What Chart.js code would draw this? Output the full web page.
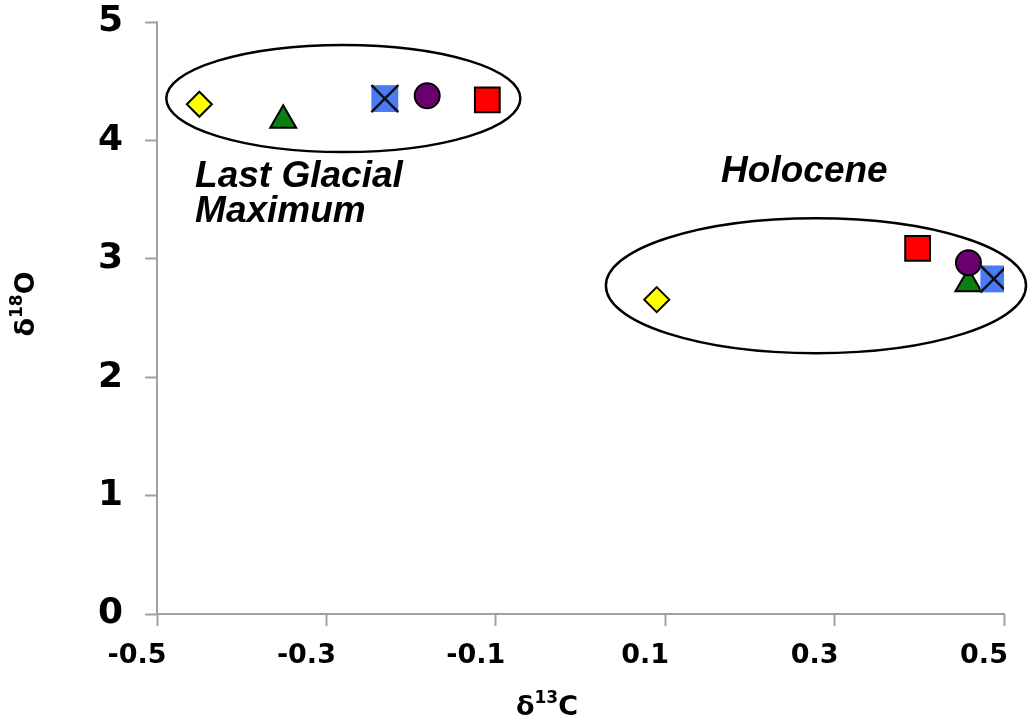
<!DOCTYPE html>
<html>
<head>
<meta charset="utf-8">
<script src="https://cdn.jsdelivr.net/npm/chart.js@4/dist/chart.umd.min.js"></script>
<style>
html,body{margin:0;padding:0;background:#fff;}
#wrap{width:1033px;height:722px;position:relative;}
</style>
</head>
<body>
<div id="wrap"><canvas id="c"></canvas></div>
<script>
// ---- data (x = δ13C, y = δ18O); index 0 = Last Glacial Maximum, 1 = Holocene ----
const groupNames = ['Last Glacial Maximum', 'Holocene'];
const diamondX  = [-0.450, 0.090];
const diamondY  = [4.305, 2.655];
const triangleX = [-0.351, 0.458];
const triangleY = [4.17, 2.79];
const crossX    = [-0.231, 0.488];
const crossY    = [4.353, 2.83];
const circleX   = [-0.181, 0.458];
const circleY   = [4.377, 2.967];
const squareX   = [-0.110, 0.398];
const squareY   = [4.343, 3.087];

// group ellipses (centre and radii in data units)
const ellipseCX = [-0.280, 0.278];
const ellipseCY = [4.354, 2.773];
const ellipseRX = [0.209, 0.248];
const ellipseRY = [0.452, 0.570];

const xTickValues = [-0.5, -0.3, -0.1, 0.1, 0.3, 0.5];
const xTickLabels = ['-0.5', '-0.3', '-0.1', '0.1', '0.3', '0.5'];
const yTickLabels = ['0', '1', '2', '3', '4', '5'];

const pts = (xs, ys) => xs.map((v, i) => ({x: v, y: ys[i]}));

const AXIS = '#a0a0a0';

const overlay = {
  id: 'overlay',
  beforeDatasetsDraw(chart) {
    const {ctx, scales: {x, y}} = chart;
    ctx.save();
    ctx.strokeStyle = '#000';
    ctx.lineWidth = 2.5;
    for (let i = 0; i < groupNames.length; i++) {
      const cx = x.getPixelForValue(ellipseCX[i]);
      const cy = y.getPixelForValue(ellipseCY[i]);
      const rx = Math.abs(x.getPixelForValue(ellipseCX[i] + ellipseRX[i]) - cx);
      const ry = Math.abs(y.getPixelForValue(ellipseCY[i] + ellipseRY[i]) - cy);
      ctx.beginPath();
      ctx.ellipse(cx, cy, rx, ry, 0, 0, Math.PI * 2);
      ctx.stroke();
    }
    // group labels
    ctx.fillStyle = '#000';
    ctx.font = 'italic bold 37px "Liberation Sans", Arial, sans-serif';
    ctx.textBaseline = 'alphabetic';
    ctx.textAlign = 'left';
    ctx.fillText('Last Glacial', x.getPixelForValue(-0.455), y.getPixelForValue(3.605));
    ctx.fillText('Maximum', x.getPixelForValue(-0.455), y.getPixelForValue(3.31));
    ctx.fillText('Holocene', x.getPixelForValue(0.166), y.getPixelForValue(3.647));
    ctx.restore();
  },
  afterDraw(chart) {
    const {ctx} = chart;
    const drawSup = (base, sup, tail, cx, cy, rot) => {
      ctx.save();
      ctx.translate(cx, cy);
      ctx.rotate(rot);
      const big = 'bold 27px "DejaVu Sans", sans-serif';
      const small = 'bold 17px "DejaVu Sans", sans-serif';
      ctx.font = big; const w1 = ctx.measureText(base).width; const w3 = ctx.measureText(tail).width;
      ctx.font = small; const w2 = ctx.measureText(sup).width;
      const total = w1 + w2 + w3;
      let px = -total / 2;
      ctx.fillStyle = '#000';
      ctx.textBaseline = 'alphabetic';
      ctx.textAlign = 'left';
      ctx.font = big; ctx.fillText(base, px, 10); px += w1;
      ctx.font = small; ctx.fillText(sup, px, -2); px += w2;
      ctx.font = big; ctx.fillText(tail, px, 10);
      ctx.restore();
    };
    drawSup('δ', '18', 'O', 24, 304, -Math.PI / 2);
    drawSup('δ', '13', 'C', 547, 705, 0);
  }
};

new Chart(document.getElementById('c'), {
  type: 'scatter',
  data: {
    datasets: [
      {label: 'Series 3 (cross)', data: pts(crossX, crossY), pointStyle: 'crossRot', pointRadius: 19, pointHoverRadius: 19,
       borderColor: '#111', backgroundColor: 'rgba(0,0,0,0)', pointBorderWidth: 2.5},
      {label: 'Series 3', data: pts(crossX, crossY), pointStyle: 'rect', pointRadius: 19, pointHoverRadius: 19,
       borderColor: '#4a7af5', backgroundColor: '#4a7af5', pointBorderWidth: 0},
      {label: 'Series 4', data: pts(circleX, circleY), pointStyle: 'circle', pointRadius: 12.5, pointHoverRadius: 12.5,
       borderColor: '#000', backgroundColor: '#6a006e', pointBorderWidth: 2},
      {label: 'Series 2', data: pts(triangleX, triangleY), pointStyle: 'triangle', pointRadius: 15, pointHoverRadius: 15,
       borderColor: '#000', backgroundColor: '#0b7f12', pointBorderWidth: 2},
      {label: 'Series 5', data: pts(squareX, squareY), pointStyle: 'rect', pointRadius: 17.5, pointHoverRadius: 17.5,
       borderColor: '#000', backgroundColor: '#ff0000', pointBorderWidth: 2},
      {label: 'Series 1', data: pts(diamondX, diamondY), pointStyle: 'rectRot', pointRadius: 12.5, pointHoverRadius: 12.5,
       borderColor: '#000', backgroundColor: '#ffff00', pointBorderWidth: 2}
    ]
  },
  options: {
    responsive: true,
    maintainAspectRatio: false,
    animation: false,
    layout: {padding: {top: 22, right: 29, left: 0, bottom: 0}},
    plugins: {legend: {display: false}, tooltip: {enabled: false}},
    scales: {
      x: {
        type: 'linear', position: 'bottom', min: -0.5, max: 0.5,
        afterFit(s) { s.height = 108; s.paddingLeft = 0; s.paddingRight = 0; },
        afterBuildTicks(s) { s.ticks = xTickValues.map(v => ({value: v})); },
        ticks: {
          callback: (v) => { const i = xTickValues.findIndex(t => Math.abs(t - v) < 1e-9); return i >= 0 ? xTickLabels[i] : ''; },
          font: {family: '"DejaVu Sans", Verdana, sans-serif', size: 27, weight: 'bold'},
          color: '#000', padding: 14, labelOffset: -20, maxRotation: 0, autoSkip: false
        },
        grid: {display: true, drawOnChartArea: false, drawTicks: true, tickLength: 12, tickColor: AXIS, tickWidth: 2},
        border: {display: true, color: AXIS, width: 2}
      },
      y: {
        type: 'linear', position: 'left', min: 0, max: 5,
        afterFit(s) { s.width = 157; s.paddingTop = 0; s.paddingBottom = 0; },
        ticks: {
          stepSize: 1,
          callback: (v) => yTickLabels[Math.round(v)],
          font: {family: '"DejaVu Sans", Verdana, sans-serif', size: 36, weight: 'bold'},
          color: '#000', padding: 22
        },
        grid: {display: true, drawOnChartArea: false, drawTicks: true, tickLength: 12, tickColor: AXIS, tickWidth: 2},
        border: {display: true, color: AXIS, width: 2}
      }
    }
  },
  plugins: [overlay]
});
</script>
</body>
</html>
